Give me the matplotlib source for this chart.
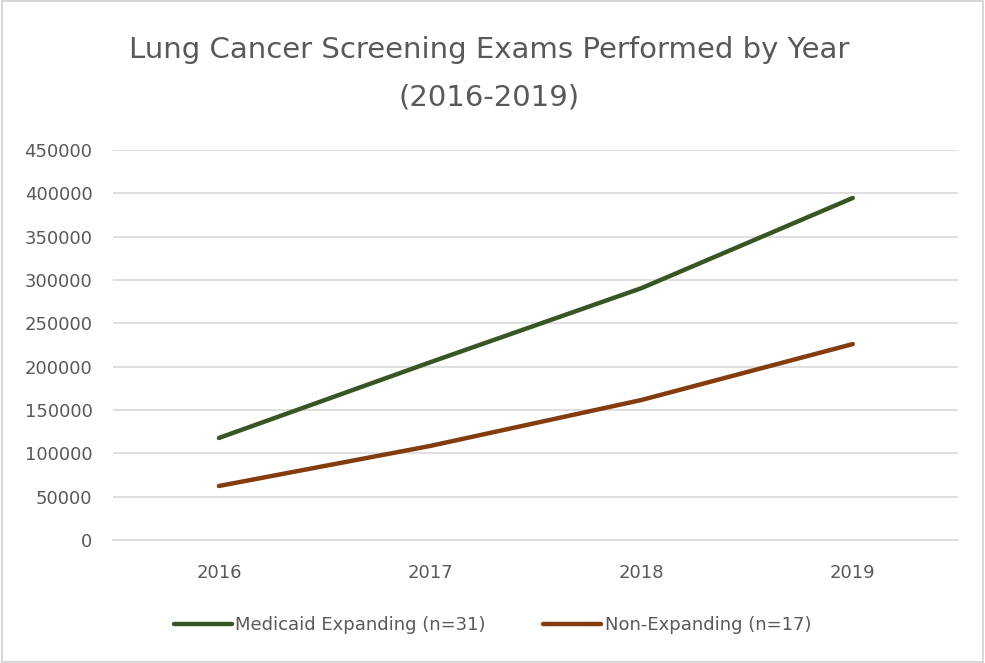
import matplotlib.pyplot as plt
from matplotlib.patches import Rectangle

plt.rcParams['font.family'] = ['Liberation Sans Narrow', 'DejaVu Sans']

years = ['2016', '2017', '2018', '2019']
medicaid_expanding = [117700, 205000, 290500, 394500]
non_expanding = [62300, 108500, 161500, 226000]

text_color = '#595959'

fig = plt.figure(figsize=(9.85, 6.63), dpi=100)
ax = fig.add_axes([0.115, 0.1855, 0.858, 0.5885])

x = range(len(years))
ax.plot(x, medicaid_expanding, color='#375623', linewidth=3.2,
        solid_capstyle='round', label='Medicaid Expanding (n=31)')
ax.plot(x, non_expanding, color='#843C0C', linewidth=3.2,
        solid_capstyle='round', label='Non-Expanding (n=17)')

ax.set_xlim(-0.5, 3.5)
ax.set_ylim(0, 450000)
ax.set_yticks(range(0, 450001, 50000))
ax.set_xticks(list(x))
ax.set_xticklabels(years)
ax.grid(axis='y', color='#D9D9D9', linewidth=1.2)
ax.set_axisbelow(True)
for s in ['top', 'right', 'left']:
    ax.spines[s].set_visible(False)
ax.spines['bottom'].set_color('#D9D9D9')
ax.spines['bottom'].set_linewidth(1.2)
ax.tick_params(length=0, labelsize=13, colors=text_color)
ax.tick_params(axis='x', pad=17)
ax.tick_params(axis='y', pad=15)

# titel in twee regels
fig.text(0.497, 0.924, 'Lung Cancer Screening Exams Performed by Year',
         ha='center', va='center', fontsize=21, color=text_color)
fig.text(0.497, 0.853, '(2016-2019)',
         ha='center', va='center', fontsize=21, color=text_color)

fig.legend(loc='center', bbox_to_anchor=(0.5, 0.057), ncol=2, frameon=False,
           fontsize=13, labelcolor=text_color, handlelength=3.2, handletextpad=0.2,
           columnspacing=3.2)

fig.patches.append(Rectangle((0.002, 0.002), 0.996, 0.996, transform=fig.transFigure,
                             fill=False, edgecolor='#D0D0D0', linewidth=1.2))

fig.savefig('out.png', dpi=100)
